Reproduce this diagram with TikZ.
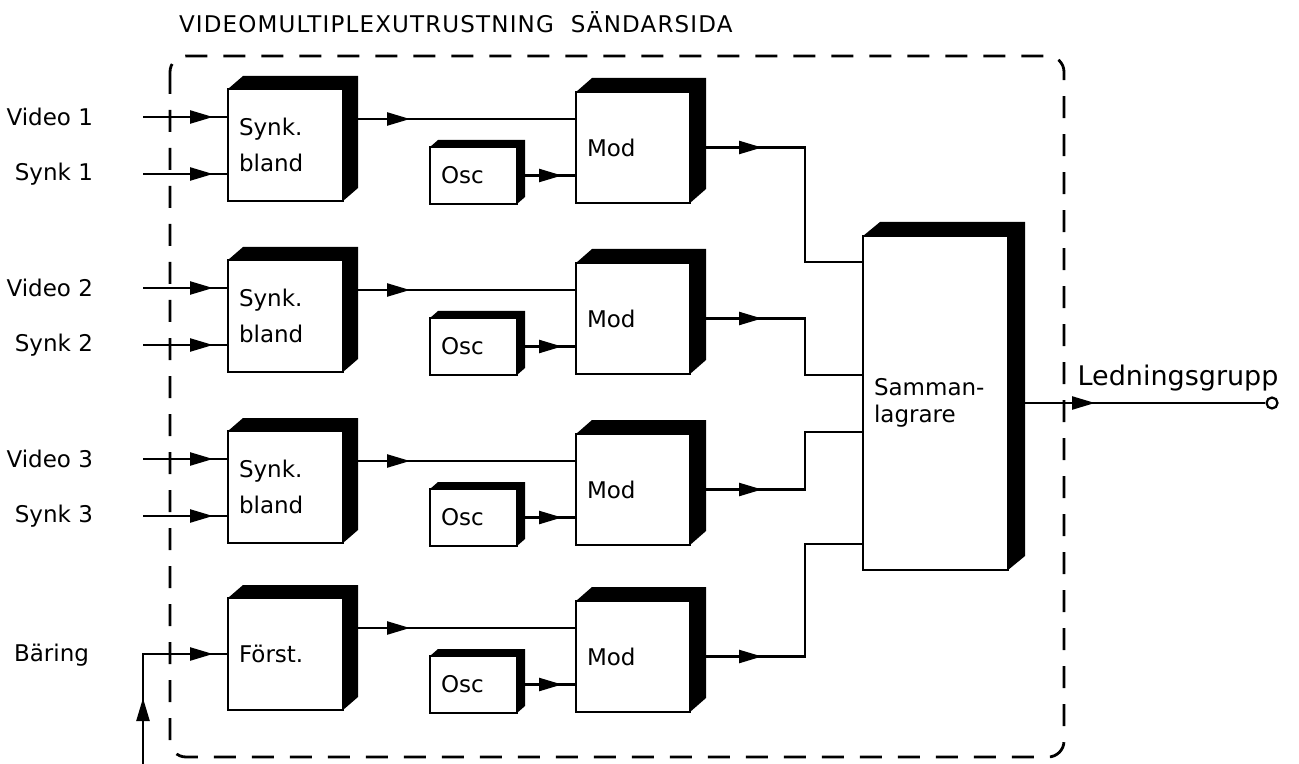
\documentclass[tikz,border=0pt]{standalone}
\usepackage{fontspec}
\setmainfont{DejaVu Sans}
\usetikzlibrary{arrows.meta, decorations.markings}

\begin{document}
\begin{tikzpicture}[x=0.5pt, y=-0.5pt, font=\fontsize{11.5}{13.5}\selectfont,
    block/.style={rectangle, draw=black, fill=white, line width=1.4pt, outer sep=0pt, align=left, inner sep=5.5pt},
    synkblock/.style={block, text width=46.5pt, minimum height=56pt},
    modblock/.style={block, text width=46pt, minimum height=55.5pt},
    oscblock/.style={block, text width=32.5pt, minimum height=28.5pt},
    sumblock/.style={block, text width=61.5pt, minimum height=167pt},
    inlabel/.style={anchor=east},
    flow/.style={draw=black, line width=1.2pt},
    tipat/.style={postaction={decorate, decoration={markings, mark=at position #1 with {\arrow{Triangle[length=11.5pt, width=6.5pt]}}}}},
    frameline/.style={draw=black, line width=1.4pt, dash pattern=on 11pt off 8pt, rounded corners=8pt}]

    \useasboundingbox (0,0) rectangle (1299,764);

    \node[anchor=west, font=\fontsize{11.5}{13.5}\selectfont\addfontfeatures{LetterSpace=5}] (title) at (172,22) {VIDEOMULTIPLEXUTRUSTNING \ SÄNDARSIDA};
    \draw[frameline] (170,56) rectangle (1064,757);

    % blocks
    \foreach \r/\oy in {1/0, 2/171, 3/342} {
        \node[synkblock] (synk\r) at (285.5,145+\oy) {Synk.\\[4.5pt]bland};
        \node[modblock] (mod\r) at (633,147.5+\oy) {Mod};
        \node[oscblock] (osc\r) at (473.5,175.5+\oy) {Osc};
        \node[inlabel] (video\r) at (100,117+\oy) {Video \r};
        \node[inlabel] (synklabel\r) at (100,174+\oy) {Synk \r};
        \coordinate (vin\r) at (143,117+\oy);
        \coordinate (sin\r) at (143,174+\oy);
    }
    \node[synkblock] (forst) at (285.5,654) {Först.};
    \node[modblock] (mod4) at (633,656.5) {Mod};
    \node[oscblock] (osc4) at (473.5,684.5) {Osc};
    \node[inlabel] (baring) at (96,655) {Bäring};
    \coordinate (barin) at (143,764);

    \node[sumblock] (sum) at (935.5,403) {Samman-\\lagrare};

    % depth of the boxes
    \foreach \n/\dx/\dy in {synk1/15/13, synk2/15/13, synk3/15/13, forst/15/13,
        mod1/16/14, mod2/16/14, mod3/16/14, mod4/16/14,
        osc1/8/7, osc2/8/7, osc3/8/7, osc4/8/7, sum/17/14}
        \fill (\n.north west) -- ++(\dx,-\dy) -- ([shift={(\dx,-\dy)}]\n.north east)
            -- ([shift={(\dx,-\dy)}]\n.south east) -- (\n.south east) -- (\n.north east) -- cycle;

    \coordinate (bus) at (805,0);
    \coordinate (sumin1) at ([yshift=70.5pt]sum.west);
    \coordinate (sumin2) at ([yshift=14pt]sum.west);
    \coordinate (sumin3) at ([yshift=-14.5pt]sum.west);
    \coordinate (sumin4) at ([yshift=-70.5pt]sum.west);

    % signal lines
    \foreach \r in {1,2,3} {
        \draw[flow, tipat=-7.5pt] (vin\r) -- (vin\r -| synk\r.west);
        \draw[flow, tipat=-7.5pt] (sin\r) -- (sin\r -| synk\r.west);
        \draw[flow, tipat=33.5pt] ([yshift=13pt]synk\r.east) -- ([yshift=13pt]synk\r.east -| mod\r.west);
    }
    \draw[flow, tipat=33pt, tipat=-7.5pt] (barin) |- (forst.west);
    \draw[flow, tipat=33.5pt] ([yshift=13pt]forst.east) -- ([yshift=13pt]forst.east -| mod4.west);
    \foreach \r in {1,2,3,4} {
        \draw[flow, tipat=-7pt] (osc\r.east) -- (osc\r.east -| mod\r.west);
        \draw[flow, tipat=36pt] (mod\r.east) -- (mod\r.east -| bus) |- (sumin\r);
    }

    \node[circle, draw=black, line width=1.1pt, fill=white, inner sep=0pt, minimum size=5.5pt] (term) at (1272,403) {};
    \draw[flow, tipat=43.5pt] (sum.east) -- (term);
    \node[font=\fontsize{13.5}{16}\selectfont] (lgrupp) at (1178,378) {Ledningsgrupp};

\end{tikzpicture}
\end{document}
